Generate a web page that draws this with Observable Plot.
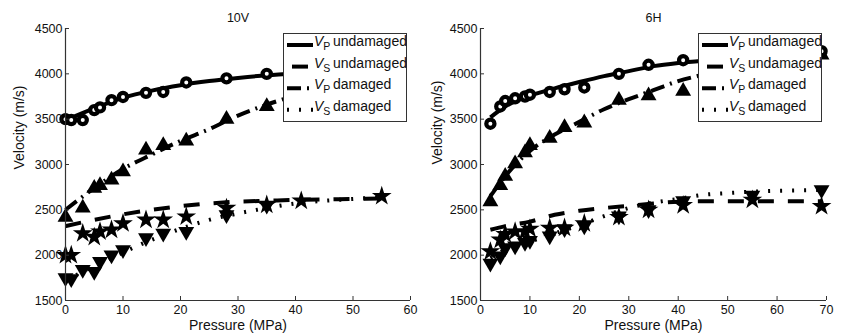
<!DOCTYPE html>
<html><head><meta charset="utf-8">
<script src="https://cdn.jsdelivr.net/npm/d3@7"></script>
<script src="https://cdn.jsdelivr.net/npm/@observablehq/plot@0.6"></script>
<style>
html,body{margin:0;padding:0;background:#fff;}
#wrap{display:flex;width:841px;height:335px;overflow:hidden;}
.panel{position:relative;}
.legend{position:absolute;}
</style></head><body><div id="wrap"></div>
<script>
// ---------- Panel 10V : measured points ----------
const p10V_VpU = [0,1,3,5,6,8,10,14,17,21,28,35];
const v10V_VpU = [3500,3490,3490,3600,3630,3710,3745,3790,3800,3905,3950,4000];
const p10V_VpD = [0,3,5,6,8,10,14,17,21,28,35];
const v10V_VpD = [2420,2520,2740,2770,2830,2920,3160,3210,3260,3500,3640];
const p10V_VsU = [0,1,3,5,6,8,10,14,17,21,28,35,41,55];
const v10V_VsU = [2000,2000,2240,2200,2260,2280,2350,2390,2390,2425,2520,2555,2600,2650];
const p10V_VsD = [0,1,3,5,6,8,10,14,17,21,28,35];
const v10V_VsD = [1750,1740,1840,1820,1930,2000,2060,2190,2240,2260,2445,2550];
// ---------- Panel 10V : fitted curves ----------
const f10V_P   = [0,5,10,15,20,25,30,35,40,45,50,55];
const f10V_VpU = [3490,3620,3735,3815,3875,3920,3955,3985,4005,4020,4030,4040];
const f10V_VpD = [2500,2740,2950,3110,3260,3390,3540,3660,3760,3840,3900,3950];
const f10V_VsU = [2320,2390,2450,2500,2540,2570,2590,2600,2610,2615,2620,2625];
const f10V_VsD = [1720,1880,2030,2170,2290,2390,2460,2520,2570,2600,2620,2640];

// ---------- Panel 6H : measured points ----------
const p6H_Vp  = [2,4,5,7,9,10,14,17,21,28,34,41,69];
const v6H_VpU = [3450,3640,3700,3730,3750,3770,3800,3830,3850,4000,4100,4150,4250];
const v6H_VpD = [2590,2770,2870,3010,3130,3210,3290,3410,3460,3710,3760,3810,4210];
const p6H_Vs  = [2,4,5,7,9,10,14,17,21,28,34,41,55,69];
const v6H_VsU = [2040,2170,2230,2260,2260,2290,2300,2300,2350,2420,2500,2550,2610,2540];
const v6H_VsD = [1910,1990,2080,2100,2140,2160,2210,2290,2320,2430,2500,2600,2660,2720];
// ---------- Panel 6H : fitted curves ----------
const f6H_P   = [2,5,10,15,20,25,30,35,40,45,50,55,60,65,69];
const f6H_VpU = [3520,3640,3760,3840,3910,3975,4030,4085,4120,4145,4165,4180,4195,4205,4215];
const f6H_VpD = [2650,2870,3150,3330,3470,3610,3720,3820,3920,3990,4060,4110,4150,4190,4220];
const f6H_VsU = [2280,2320,2370,2445,2490,2520,2545,2570,2590,2595,2595,2595,2595,2595,2595];
const f6H_VsD = [1970,2060,2150,2240,2330,2430,2520,2580,2620,2665,2685,2700,2710,2715,2720];

// ---------- axes / labels ----------
const yTicks = [1500,2000,2500,3000,3500,4000,4500];
const xTicks10V = [0,10,20,30,40,50,60];
const xTicks6H = [0,10,20,30,40,50,60,70];
const titles = ["10V","6H"];
const xLabel = "Pressure (MPa)";
const yLabel = "Velocity (m/s)";
const legendLabels = [["P","undamaged"],["S","undamaged"],["P","damaged"],["S","damaged"]];

const DASH = {solid: null, dashed: "16,14", dashdot: "14,6,2,6", dotted: "2,10"};
const FONT = "'Liberation Sans', Arial, Helvetica, sans-serif";

const zip = (P, V) => P.map((p, i) => ({p, v: V[i]}));

function panel({title, xDomain, xTicks, width, mL, mR, pts, fits, yLabDx, yLabDy, legendLeft}) {
  const lineOpts = (dash) => ({x: "p", y: "v", stroke: "#000", strokeWidth: 4, strokeDasharray: dash, strokeLinecap: "butt", curve: "monotone-x"});
  const plot = Plot.plot({
    width, height: 335,
    marginTop: 28, marginBottom: 35, marginLeft: mL, marginRight: mR,
    style: {fontFamily: FONT, fontSize: "12.5px", color: "#111", background: "#fff", overflow: "visible"},
    x: {domain: xDomain},
    y: {domain: [1500, 4500]},
    marks: [
      Plot.line(zip(fits.P, fits.VsD), lineOpts(DASH.dotted)),
      Plot.line(zip(fits.P, fits.VsU), lineOpts(DASH.dashed)),
      Plot.line(zip(fits.P, fits.VpD), lineOpts(DASH.dashdot)),
      Plot.line(zip(fits.P, fits.VpU), lineOpts(DASH.solid)),
      Plot.dot(pts.VsD, {x: "p", y: "v", symbol: "triangle", r: 5.9, fill: "#000", rotate: 180}),
      Plot.dot(pts.VsU, {x: "p", y: "v", symbol: "star", r: 6.2, fill: "#000"}),
      Plot.dot(pts.VpD, {x: "p", y: "v", symbol: "triangle", r: 5.9, fill: "#000"}),
      Plot.dot(pts.VpU, {x: "p", y: "v", r: 4.1, fill: "#fff", stroke: "#000", strokeWidth: 4.2}),
      Plot.ruleX([xDomain[0]], {stroke: "#333", strokeWidth: 1.2}),
      Plot.ruleY([1500], {stroke: "#333", strokeWidth: 1.2}),
      Plot.axisY(yTicks, {tickSize: -4, tickPadding: 7, tickFormat: d => String(d), label: null, fontSize: 12.5, stroke: "#333"}),
      Plot.axisX(xTicks, {tickSize: -4, tickPadding: 9, tickFormat: d => String(d), label: null, fontSize: 12.5, stroke: "#333"}),
      Plot.text([title], {text: d => d, frameAnchor: "top", dy: -11, lineAnchor: "middle", fontSize: 12.5}),
      Plot.text([xLabel], {text: d => d, frameAnchor: "bottom", dy: 20, lineAnchor: "top", fontSize: 14}),
      Plot.text([yLabel], {text: d => d, frameAnchor: "left", dx: yLabDx, dy: yLabDy, rotate: -90, lineAnchor: "middle", fontSize: 14})
    ]
  });

  const div = document.createElement("div");
  div.className = "panel";
  div.style.width = width + "px";
  div.style.height = "335px";
  div.appendChild(plot);

  // legend (top-right, inside the axes)
  const W = 124, H = 89;
  const leg = d3.create("svg").attr("class", "legend").attr("width", W).attr("height", H)
    .style("left", legendLeft + "px").style("top", "32.5px");
  leg.append("rect").attr("x", 0.5).attr("y", 0.5).attr("width", W - 1).attr("height", H - 1)
    .attr("fill", "#fff").attr("stroke", "#333").attr("stroke-width", 1);
  const styles = [DASH.solid, DASH.dashed, DASH.dashdot, DASH.dotted];
  const offsets = [0, -5, 0, 0];
  legendLabels.forEach(([sub, word], i) => {
    const base = 13 + i * 21.6;
    leg.append("line").attr("x1", 4).attr("x2", 30).attr("y1", base - 1).attr("y2", base - 1)
      .attr("stroke", "#000").attr("stroke-width", 4)
      .attr("stroke-dasharray", styles[i]).attr("stroke-dashoffset", offsets[i]);
    const t = leg.append("text").attr("x", 31).attr("y", base)
      .attr("font-family", FONT).attr("font-size", 14).attr("fill", "#111");
    t.append("tspan").attr("font-style", "italic").text("V");
    t.append("tspan").attr("dy", 4).attr("font-size", 10.5).text(sub);
    t.append("tspan").attr("x", 50).attr("dy", -4).text(word);
  });
  div.appendChild(leg.node());
  return div;
}

const wrap = document.getElementById("wrap");
wrap.appendChild(panel({
  title: titles[0], xDomain: [0, 60], xTicks: xTicks10V, width: 420, mL: 65, mR: 10,
  pts: {VpU: zip(p10V_VpU, v10V_VpU), VpD: zip(p10V_VpD, v10V_VpD), VsU: zip(p10V_VsU, v10V_VsU), VsD: zip(p10V_VsD, v10V_VsD)},
  fits: {P: f10V_P, VpU: f10V_VpU, VpD: f10V_VpD, VsU: f10V_VsU, VsD: f10V_VsD},
  yLabDx: -46, yLabDy: 5, legendLeft: 282.5
}));
wrap.appendChild(panel({
  title: titles[1], xDomain: [0, 70], xTicks: xTicks6H, width: 421, mL: 60, mR: 15,
  pts: {VpU: zip(p6H_Vp, v6H_VpU), VpD: zip(p6H_Vp, v6H_VpD), VsU: zip(p6H_Vs, v6H_VsU), VsD: zip(p6H_Vs, v6H_VsD)},
  fits: {P: f6H_P, VpU: f6H_VpU, VpD: f6H_VpD, VsU: f6H_VsU, VsD: f6H_VsD},
  yLabDx: -43, yLabDy: 0, legendLeft: 278
}));
</script></body></html>
